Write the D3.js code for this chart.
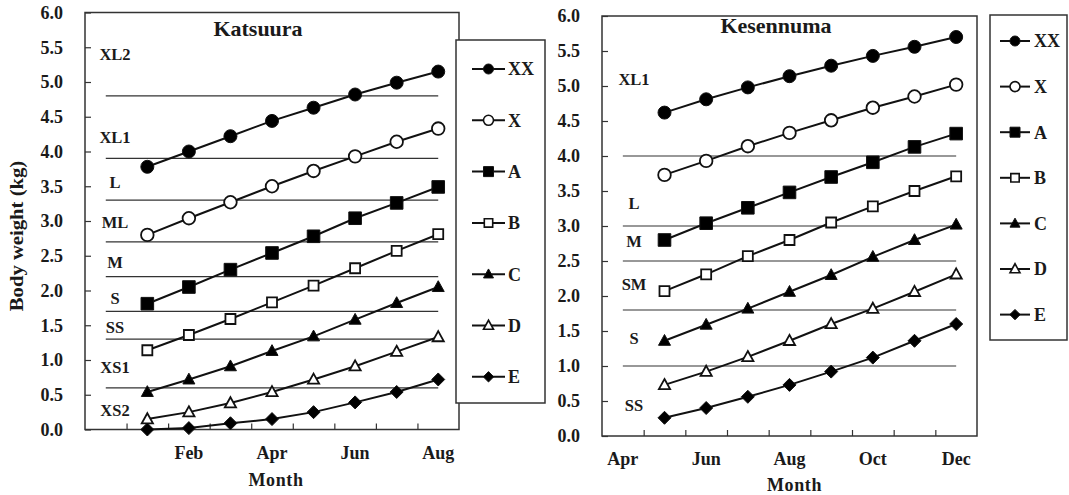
<!DOCTYPE html>
<html>
<head>
<meta charset="utf-8">
<script src="https://cdn.jsdelivr.net/npm/d3@7"></script>
<style>
  body { margin: 0; background: #fff; }
  svg text { font-family: "Liberation Serif", "Times New Roman", serif; font-weight: bold; fill: #1a1a1a; }
</style>
</head>
<body>
<svg id="chart" width="1069" height="495"></svg>
<script>
// series names, shared by both panels
const seriesNames = ["XX", "X", "A", "B", "C", "D", "E"];

// Katsuura
const katsuuraMonths = ["Dec", "Jan", "Feb", "Mar", "Apr", "May", "Jun", "Jul", "Aug"];
const katsuuraTicks = ["Feb", "Apr", "Jun", "Aug"];
const katsuuraXX = [3.78, 4.00, 4.22, 4.44, 4.63, 4.82, 4.99, 5.15];
const katsuuraX  = [2.80, 3.04, 3.27, 3.50, 3.72, 3.93, 4.14, 4.33];
const katsuuraA  = [1.81, 2.05, 2.30, 2.54, 2.78, 3.04, 3.26, 3.49];
const katsuuraB  = [1.14, 1.36, 1.59, 1.83, 2.07, 2.32, 2.57, 2.81];
const katsuuraC  = [0.54, 0.72, 0.91, 1.13, 1.34, 1.58, 1.82, 2.05];
const katsuuraD  = [0.15, 0.25, 0.38, 0.54, 0.72, 0.91, 1.12, 1.33];
const katsuuraE  = [0.00, 0.02, 0.09, 0.15, 0.25, 0.39, 0.54, 0.72];
const katsuuraLimits = [4.8, 3.9, 3.3, 2.7, 2.2, 1.7, 1.3, 0.6];
const katsuuraClasses = ["XL2", "XL1", "L", "ML", "M", "S", "SS", "XS1", "XS2"];
const katsuuraClassLevels = [5.4, 4.2, 3.56, 2.98, 2.4, 1.89, 1.47, 0.9, 0.28];

// Kesennuma
const kesennumaMonths = ["Apr", "May", "Jun", "Jul", "Aug", "Sep", "Oct", "Nov", "Dec"];
const kesennumaTicks = ["Apr", "Jun", "Aug", "Oct", "Dec"];
const kesennumaXX = [4.62, 4.81, 4.98, 5.14, 5.29, 5.43, 5.56, 5.70];
const kesennumaX  = [3.73, 3.93, 4.14, 4.33, 4.51, 4.69, 4.85, 5.02];
const kesennumaA  = [2.80, 3.04, 3.26, 3.48, 3.70, 3.91, 4.13, 4.32];
const kesennumaB  = [2.07, 2.31, 2.57, 2.80, 3.05, 3.28, 3.50, 3.71];
const kesennumaC  = [1.36, 1.59, 1.82, 2.06, 2.30, 2.56, 2.80, 3.02];
const kesennumaD  = [0.73, 0.92, 1.13, 1.36, 1.60, 1.82, 2.06, 2.31];
const kesennumaE  = [0.26, 0.40, 0.56, 0.73, 0.92, 1.12, 1.36, 1.60];
const kesennumaLimits = [4.0, 3.0, 2.5, 1.8, 1.0];
const kesennumaClasses = ["XL1", "L", "M", "SM", "S", "SS"];
const kesennumaClassLevels = [5.09, 3.33, 2.78, 2.17, 1.39, 0.44];

const yTicks = d3.range(0, 6.01, 0.5);

// marker look per series
const markerStyle = {
  XX: {shape: "circle",   fill: "#000", size: 6.5, legSize: 5},
  X:  {shape: "circle",   fill: "#fff", size: 6.3, legSize: 5},
  A:  {shape: "square",   fill: "#000", size: 6.3, legSize: 5},
  B:  {shape: "square",   fill: "#fff", size: 5,   legSize: 4.2},
  C:  {shape: "triangle", fill: "#000", size: 6,   legSize: 5},
  D:  {shape: "triangle", fill: "#fff", size: 5.6, legSize: 5},
  E:  {shape: "diamond",  fill: "#000", size: 6.5, legSize: 5.2}
};

function markerPath(shape, s) {
  const p = d3.path();
  if (shape === "circle") {
    p.arc(0, 0, s, 0, 2 * Math.PI);
  } else if (shape === "square") {
    p.rect(-s, -s, 2 * s, 2 * s);
  } else if (shape === "triangle") {
    p.moveTo(0, -s * 1.05); p.lineTo(s, s * 0.75); p.lineTo(-s, s * 0.75); p.closePath();
  } else {
    p.moveTo(0, -s); p.lineTo(s, 0); p.lineTo(0, s); p.lineTo(-s, 0); p.closePath();
  }
  return p.toString();
}

const svg = d3.select("#chart");

function drawPanel(cfg) {
  const x = d3.scaleBand().domain(cfg.months).range([cfg.left, cfg.right]).padding(0);
  const y = d3.scaleLinear().domain([0, 6]).range([cfg.bottom, cfg.top]);
  const cx = m => x(m) + x.bandwidth() / 2;
  const g = svg.append("g");

  // plot frame
  g.append("rect")
    .attr("x", cfg.left).attr("y", cfg.top)
    .attr("width", cfg.right - cfg.left).attr("height", cfg.bottom - cfg.top)
    .attr("fill", "none").attr("stroke", "#333").attr("stroke-width", 1.5);

  // y axis, ticks pointing inside
  const yAxis = g.append("g")
    .attr("transform", `translate(${cfg.left},0)`)
    .call(d3.axisLeft(y).tickValues(yTicks).tickFormat(d3.format(".1f"))
      .tickSize(-6).tickPadding(22));
  yAxis.select(".domain").remove();
  yAxis.selectAll("line").attr("stroke", "#333").attr("stroke-width", 1.2);
  yAxis.selectAll("text").attr("font-size", 18).attr("fill", "#1a1a1a");

  // x ticks at category boundaries
  const edge = d3.scaleLinear().domain([0, cfg.months.length]).range([cfg.left, cfg.right]);
  const xTickAxis = g.append("g")
    .attr("transform", `translate(0,${cfg.bottom})`)
    .call(d3.axisBottom(edge).tickValues(d3.range(1, cfg.months.length)).tickFormat("").tickSize(-6));
  xTickAxis.select(".domain").remove();
  xTickAxis.selectAll("line").attr("stroke", "#333").attr("stroke-width", 1.2);

  // x labels, every other month
  const xAxis = g.append("g")
    .attr("transform", `translate(0,${cfg.bottom})`)
    .call(d3.axisBottom(x).tickValues(cfg.ticks).tickSize(0).tickPadding(cfg.xPad));
  xAxis.select(".domain").remove();
  xAxis.selectAll("text").attr("font-size", 18).attr("fill", "#1a1a1a");

  g.append("text")
    .attr("x", (cfg.left + cfg.right) / 2 + cfg.monthDx).attr("y", cfg.bottom + cfg.monthDy)
    .attr("text-anchor", "middle").attr("font-size", 18).attr("letter-spacing", 0.6)
    .text("Month");

  // size class limit lines
  const first = cfg.months[0], last = cfg.months[cfg.months.length - 1];
  g.selectAll(".limit").data(cfg.limits).join("line")
    .attr("x1", cx(first)).attr("x2", cx(last))
    .attr("y1", d => y(d)).attr("y2", d => y(d))
    .attr("stroke", "#333").attr("stroke-width", 1.2);

  g.selectAll(".cls").data(cfg.classes).join("text")
    .attr("x", cfg.left + cfg.classDx)
    .attr("y", (d, i) => y(cfg.classLevels[i]))
    .attr("dy", "0.35em")
    .attr("text-anchor", "middle").attr("font-size", 16.5)
    .text(d => d);

  // title
  g.append("text")
    .attr("x", cfg.titleX).attr("y", cfg.titleY)
    .attr("text-anchor", "middle").attr("font-size", 22)
    .text(cfg.title);

  // series
  const line = d3.line().x(d => cx(d.m)).y(d => y(d.v));
  cfg.series.forEach((vals, i) => {
    const name = seriesNames[i];
    const st = markerStyle[name];
    const pts = vals.map((v, j) => ({m: cfg.months[j + 1], v}));
    g.append("path").datum(pts).attr("d", line)
      .attr("fill", "none").attr("stroke", "#111").attr("stroke-width", 2);
    g.selectAll(null).data(pts).join("path")
      .attr("transform", d => `translate(${cx(d.m)},${y(d.v)})`)
      .attr("d", markerPath(st.shape, st.size))
      .attr("fill", st.fill).attr("stroke", "#111").attr("stroke-width", st.fill === "#fff" ? 1.8 : 1);
  });

  // legend
  const L = cfg.legend;
  g.append("rect")
    .attr("x", L.x0).attr("y", L.y0).attr("width", L.x1 - L.x0).attr("height", L.y1 - L.y0)
    .attr("fill", "#fff").attr("stroke", "#333").attr("stroke-width", 1.5);
  seriesNames.forEach((name, i) => {
    const st = markerStyle[name];
    const ly = L.entryY + i * L.step;
    g.append("line").attr("x1", L.lineX0).attr("x2", L.lineX1).attr("y1", ly).attr("y2", ly)
      .attr("stroke", "#111").attr("stroke-width", 2);
    g.append("path").attr("transform", `translate(${(L.lineX0 + L.lineX1) / 2},${ly})`)
      .attr("d", markerPath(st.shape, st.legSize))
      .attr("fill", st.fill).attr("stroke", "#111").attr("stroke-width", st.fill === "#fff" ? 1.6 : 1);
    g.append("text").attr("x", L.textX).attr("y", ly).attr("dy", "0.35em")
      .attr("font-size", 18).text(name);
  });
}

drawPanel({
  months: katsuuraMonths, ticks: katsuuraTicks,
  series: [katsuuraXX, katsuuraX, katsuuraA, katsuuraB, katsuuraC, katsuuraD, katsuuraE],
  limits: katsuuraLimits, classes: katsuuraClasses, classLevels: katsuuraClassLevels,
  title: "Katsuura", titleX: 258, titleY: 36,
  left: 85, right: 459, top: 12.5, bottom: 429.5,
  xPad: 17, monthDx: 4, monthDy: 56, classDx: 30,
  legend: {x0: 456, x1: 545, y0: 40, y1: 403, lineX0: 472, lineX1: 505, textX: 508, entryY: 69, step: 51.3}
});

drawPanel({
  months: kesennumaMonths, ticks: kesennumaTicks,
  series: [kesennumaXX, kesennumaX, kesennumaA, kesennumaB, kesennumaC, kesennumaD, kesennumaE],
  limits: kesennumaLimits, classes: kesennumaClasses, classLevels: kesennumaClassLevels,
  title: "Kesennuma", titleX: 776, titleY: 33,
  left: 602, right: 977, top: 16, bottom: 436,
  xPad: 16, monthDx: 5, monthDy: 55, classDx: 32,
  legend: {x0: 990, x1: 1067, y0: 15, y1: 340, lineX0: 1000, lineX1: 1030, textX: 1034, entryY: 41, step: 45.6}
});

// shared y axis title
svg.append("text")
  .attr("transform", "translate(23,236) rotate(-90) scale(1.15,1)")
  .attr("text-anchor", "middle").attr("font-size", 18)
  .text("Body weight (kg)");
</script>
</body>
</html>
